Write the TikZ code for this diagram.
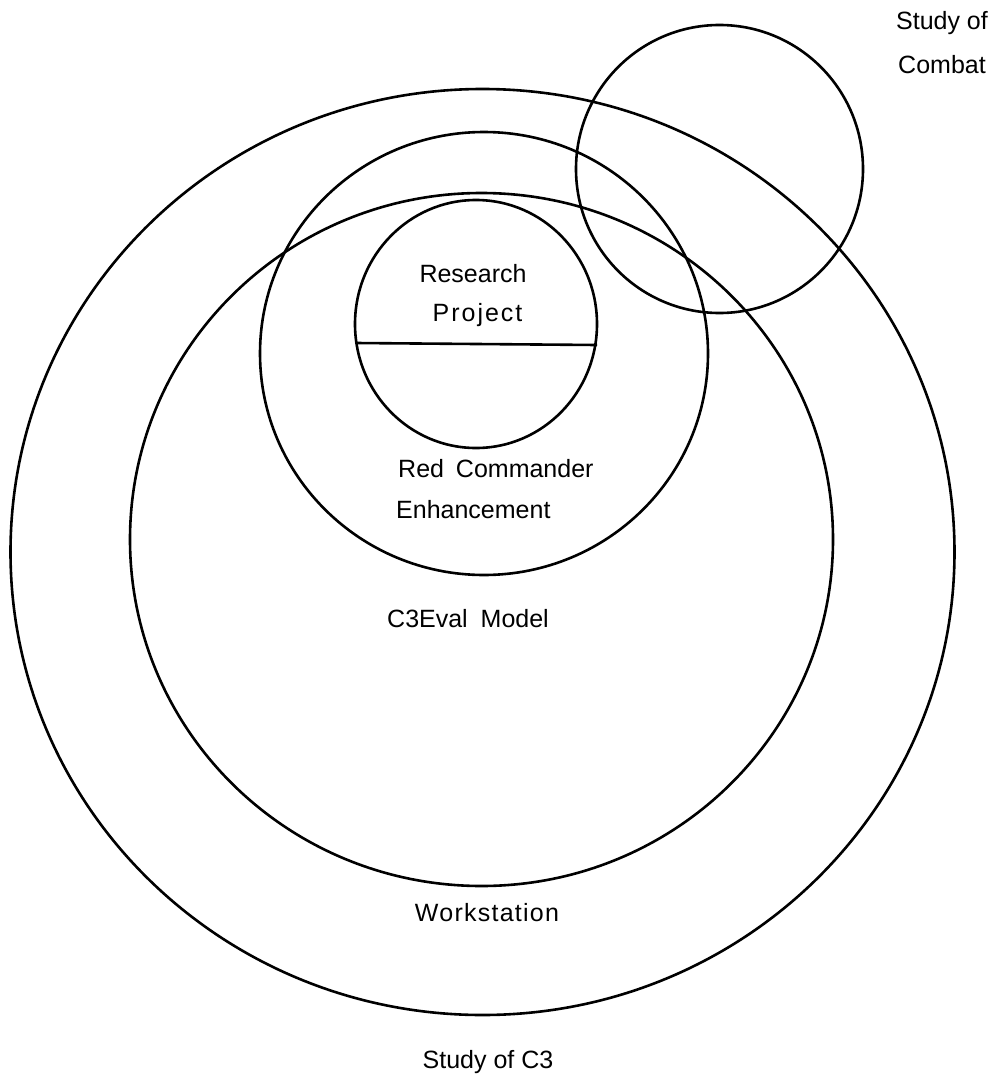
\documentclass[tikz,border=0pt]{standalone}
\usepackage{fontspec}
\setmainfont{Liberation Sans}
\begin{document}
\begin{tikzpicture}[x=1pt,y=-1pt,
  ring/.style={draw=black, line width=2.6pt},
  lbl/.style={font=\fontsize{25}{30}\selectfont, inner sep=0pt, anchor=base}]
\useasboundingbox (0,0) rectangle (1001,1087);
% circles
\draw[ring] (482.5,552) ellipse [x radius=472, y radius=463];
\draw[ring] (481.5,539.5) ellipse [x radius=351.5, y radius=346.5];
\draw[ring] (484,353.5) ellipse [x radius=224, y radius=221.5];
\draw[ring] (476,324) ellipse [x radius=121, y radius=124];
\draw[ring] (719.5,169) ellipse [x radius=143.5, y radius=144];
\coordinate (rl) at (356,343);
\coordinate (rr) at (597,345);
\draw[ring] (rl) -- (rr);
% labels
\node[lbl] (studyof) at (942,29) {Study of};
\node[lbl] (combat) at (942,73) {Combat};
\node[lbl] (research) at (473,282) {Research};
\node[lbl] (project) at (477.5,321) {\addfontfeature{LetterSpace=8}Project};
\node[lbl, anchor=base west] (redcmd) at (398,477) {Red\hspace{5pt} Commander};
\node[lbl, anchor=base west] (enh) at (396,518) {Enhancement};
\node[lbl, anchor=base west] (c3eval) at (387,627) {C3Eval\hspace{6pt} Model};
\node[lbl] (workstation) at (487,921) {\addfontfeature{LetterSpace=5}Workstation};
\node[lbl] (studyc3) at (488,1068) {Study of C3};
\end{tikzpicture}
\end{document}
